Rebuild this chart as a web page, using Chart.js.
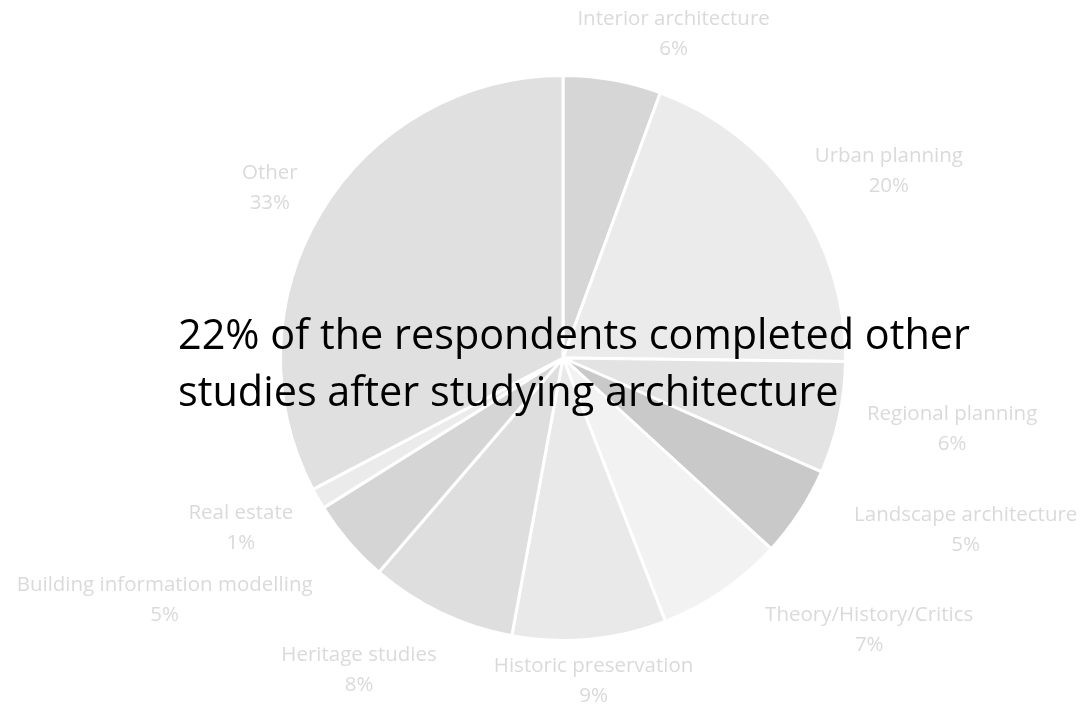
<!DOCTYPE html>
<html>
<head>
<meta charset="utf-8">
<script src="https://cdn.jsdelivr.net/npm/chart.js@4"></script>
<style>
    html, body { margin: 0; padding: 0; background: #fff; }
    #wrap { position: relative; width: 1085px; height: 708px; }
    #note {
        position: absolute; left: 178px; top: 305px;
        font-family: "Open Sans", sans-serif; font-size: 41.4px; line-height: 57px;
        color: #000; white-space: nowrap; pointer-events: none;
    }
</style>
</head>
<body>
<div id="wrap">
    <canvas id="pie" width="1085" height="708"></canvas>
    <div id="note">22% of the respondents completed other<br>studies after studying architecture</div>
</div>
<script>
// slices, clockwise from 12 o'clock
const categories = [
    'Interior architecture', 'Urban planning', 'Regional planning', 'Landscape architecture',
    'Theory/History/Critics', 'Historic preservation', 'Heritage studies',
    'Building information modelling', 'Real estate', 'Other'
];
const shares = [5.6, 19.6, 6.4, 5.2, 7.3, 8.8, 8.4, 4.8, 1.2, 32.7];
const sliceColors = [
    '#d6d6d6', '#ebebeb', '#e3e3e3', '#c9c9c9', '#f2f2f2',
    '#e9e9e9', '#dedede', '#d5d5d5', '#ebebeb', '#e0e0e0'
];

// label placement: [angle shift from slice middle (deg), distance as multiple of radius]
const labelPlacement = [
    [8.8, 1.21], [4.7, 1.33], [-1.9, 1.40], [-10, 1.55], [-14, 1.45],
    [0, 1.15], [7.6, 1.32], [9.4, 1.65], [2, 1.29], [-1, 1.20]
];

// Excel-style outside labels: name on one line, percent below
const outsideLabels = {
    id: 'outsideLabels',
    afterDatasetsDraw(chart) {
        const ctx = chart.ctx;
        const meta = chart.getDatasetMeta(0);
        const total = shares.reduce((a, b) => a + b, 0);
        ctx.save();
        ctx.font = '20.5px "Open Sans", sans-serif';
        ctx.fillStyle = '#dadada';
        ctx.textAlign = 'center';
        ctx.textBaseline = 'middle';
        meta.data.forEach((arc, i) => {
            const mid = (arc.startAngle + arc.endAngle) / 2 + labelPlacement[i][0] * Math.PI / 180;
            const dist = arc.outerRadius * labelPlacement[i][1];
            const x = arc.x + Math.cos(mid) * dist;
            const y = arc.y + Math.sin(mid) * dist;
            const pct = Math.round(shares[i] / total * 100) + '%';
            ctx.fillText(categories[i], x, y - 15);
            ctx.fillText(pct, x, y + 15);
        });
        ctx.restore();
    }
};

new Chart(document.getElementById('pie').getContext('2d'), {
    type: 'pie',
    data: {
        labels: categories,
        datasets: [{
            data: shares,
            backgroundColor: sliceColors,
            borderColor: '#ffffff',
            borderWidth: 3
        }]
    },
    options: {
        responsive: false,
        animation: false,
        layout: { padding: { left: 279, right: 238, top: 74, bottom: 66 } },
        plugins: {
            legend: { display: false },
            tooltip: { enabled: false }
        }
    },
    plugins: [outsideLabels]
});
</script>
</body>
</html>
